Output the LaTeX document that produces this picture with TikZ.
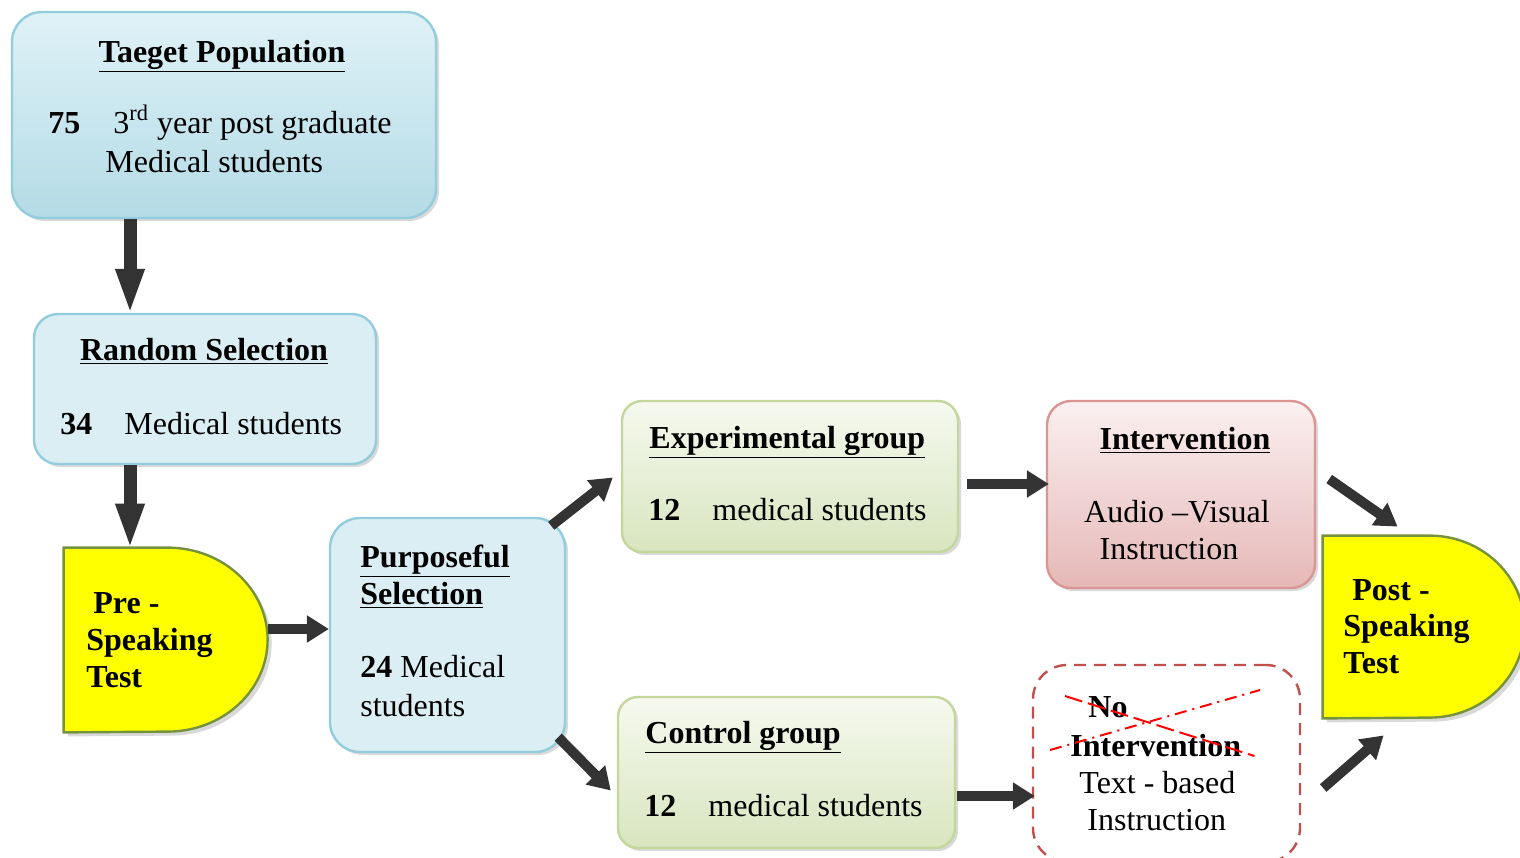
\documentclass[tikz,border=0pt]{standalone}
\usepackage{fontspec}
\setmainfont{Liberation Serif}
\usetikzlibrary{arrows.meta,positioning,calc,shadows}
\definecolor{bluetop}{HTML}{DFF2F7}
\definecolor{bluebot}{HTML}{B4DBE6}
\definecolor{bluefill}{HTML}{DAEEF3}
\definecolor{blueline}{HTML}{93CDDD}
\definecolor{greentop}{HTML}{F6F9EF}
\definecolor{greenbot}{HTML}{D8E5BF}
\definecolor{greenline}{HTML}{C3D69B}
\definecolor{pinktop}{HTML}{FBF0F0}
\definecolor{pinkbot}{HTML}{E5B8B7}
\definecolor{pinkline}{HTML}{D99694}
\definecolor{dashline}{HTML}{C0504D}
\definecolor{oliveline}{HTML}{76923C}
\definecolor{testfill}{HTML}{FFFF00}

\begin{document}
\begin{tikzpicture}[x=0.5pt,y=-0.5pt]
  \tikzstyle{box}=[rounded corners=12pt,line width=1.2pt,inner sep=0pt,drop shadow={shadow xshift=1.5pt,shadow yshift=-1.5pt,opacity=0.3}]
  \tikzstyle{txt}=[font=\fontsize{16}{19}\selectfont,inner sep=0pt,anchor=base west]
  \tikzstyle{blk}=[line width=5pt,draw=black!80,-{Triangle[length=11pt,width=13pt]}]
  \tikzstyle{blkv}=[line width=6.5pt,draw=black!80,-{Triangle[length=23pt,width=13pt]}]
  \tikzstyle{dshape}=[fill=testfill,draw=oliveline,line width=1.2pt,drop shadow={shadow xshift=2pt,shadow yshift=-2pt,opacity=0.3}]
  \useasboundingbox (0,0) rectangle (1520,857);

  % boxes
  \node[box,rounded corners=15pt,draw=blueline,top color=bluetop,bottom color=bluebot,minimum width=212pt,minimum height=103pt] (target) at (224,115) {};
  \node[box,draw=blueline,fill=bluefill,minimum width=171pt,minimum height=75pt] (random) at (205,389) {};
  \node[box,rounded corners=15pt,draw=blueline,fill=bluefill,minimum width=117.5pt,minimum height=117pt] (purp) at (447.5,635) {};
  \node[box,rounded corners=10pt,draw=greenline,top color=greentop,bottom color=greenbot,minimum width=168pt,minimum height=75.5pt] (exp) at (790,476.5) {};
  \node[box,rounded corners=10pt,draw=greenline,top color=greentop,bottom color=greenbot,minimum width=168.5pt,minimum height=75.5pt] (ctrl) at (786.5,772.5) {};
  \node[box,draw=pinkline,top color=pinktop,bottom color=pinkbot,minimum width=134pt,minimum height=93.5pt] (int) at (1181,494.5) {};
  \node[rounded corners=17pt,draw=dashline,dashed,dash pattern=on 6pt off 4pt,line width=1.2pt,inner sep=0pt,minimum width=133.5pt,minimum height=98.5pt] (noint) at (1166.5,763.5) {};

  % test shapes
  \node[inner sep=0pt,minimum width=102pt,minimum height=92pt] (pre) at (166,640) {};
  \draw[dshape] (pre.north west) -- ++(104,0) arc[start angle=-90,end angle=90,x radius=100,y radius=92] -- (pre.south west) -- cycle;
  \node[inner sep=0pt,minimum width=101pt,minimum height=91pt] (post) at (1424,627) {};
  \draw[dshape] (post.north west) -- ++(107,0) arc[start angle=-90,end angle=90,x radius=95,y radius=91] -- (post.south west) -- cycle;

  % texts
  \node[txt,anchor=base] (tgtitle) at (222,62) {\textbf{\underline{Taeget Population}}};
  \node[txt] (tgnum) at (48,133) {\textbf{75}};
  \node[txt] (tgline) at (113,133) {3\textsuperscript{rd} year post graduate};
  \node[txt] (tgline2) at (105,172) {Medical students};

  \node[txt,anchor=base] (rdtitle) at (204,360) {\textbf{\underline{Random Selection}}};
  \node[txt] (rdnum) at (60,434) {\textbf{34}};
  \node[txt] (rdline) at (124,434) {Medical students};

  \node[txt] (pretxt1) at (93,613) {\textbf{Pre -}};
  \node[txt] (pretxt2) at (86,650) {\textbf{Speaking}};
  \node[txt] (pretxt3) at (86,687) {\textbf{Test}};

  \node[txt] (pptitle1) at (360,567) {\textbf{\underline{Purposeful}}};
  \node[txt] (pptitle2) at (360,604) {\textbf{\underline{Selection}}};
  \node[txt] (ppline) at (360,677) {\textbf{24} Medical};
  \node[txt] (ppline2) at (360,716) {students};

  \node[txt] (extitle) at (649,448) {\textbf{\underline{Experimental group}}};
  \node[txt] (exnum) at (648,520) {\textbf{12}};
  \node[txt] (exline) at (712,520) {medical students};

  \node[txt] (cttitle) at (645,743) {\textbf{\underline{Control group}}};
  \node[txt] (ctnum) at (644,816) {\textbf{12}};
  \node[txt] (ctline) at (708,816) {medical students};

  \node[txt,anchor=base] (inttitle) at (1185,449) {\textbf{\underline{Intervention}}};
  \node[txt,anchor=base] (intline) at (1177,522) {Audio –Visual};
  \node[txt,anchor=base] (intline2) at (1169,559) {Instruction};

  \node[txt] (nitxt1) at (1088,717) {\textbf{No}};
  \node[txt] (nitxt2) at (1070,756) {\textbf{Intervention}};
  \node[txt] (nitxt3) at (1079,793) {Text - based};
  \node[txt] (nitxt4) at (1087,830) {Instruction};
  % crossing out
  \draw[red,line width=1pt,dash pattern=on 9pt off 3pt] ([shift={(-23,-21)}]nitxt1.base west) coordinate (crossa) -- ([shift={(13,0)}]nitxt2.base east) coordinate (crossb);
  \draw[red,line width=1pt,dash pattern=on 6pt off 3pt on 1pt off 3pt] ([shift={(-20,-6)}]nitxt2.base west) coordinate (crossc) -- ++(210,-60) coordinate (crossd);

  \node[txt] (posttxt1) at (1352,600) {\textbf{Post -}};
  \node[txt] (posttxt2) at (1343,636) {\textbf{Speaking}};
  \node[txt] (posttxt3) at (1343,673) {\textbf{Test}};

  % arrows
  \draw[blkv] ([shift={(-94,0)}]target.south) -- ([shift={(-75,2)}]random.north);
  \draw[blkv] ([shift={(-75,0)}]random.south) -- ([shift={(-36,2)}]pre.north);
  \draw[blk] ([shift={(0,-11)}]pre.east) -- ([shift={(0,-6)}]purp.west);
  \draw[blk] ([shift={(-15,9)}]purp.north east) -- ([shift={(-8,1)}]exp.west);
  \draw[blk] ([shift={(-8,-16)}]purp.south east) -- ([shift={(-6,18)}]ctrl.west);
  \draw[blk] ([shift={(8,7.5)}]exp.east) -- ([shift={(3,-10.5)}]int.west);
  \draw[blk] ([shift={(1,23.5)}]ctrl.east) -- ([shift={(3,32.5)}]noint.west);
  \draw[blk] ([shift={(13,-15.5)}]int.east) -- ([shift={(75,-9)}]post.north west);
  \draw[blk] ([shift={(22,24.5)}]noint.east) -- ([shift={(61,17)}]post.south west);
\end{tikzpicture}
\end{document}
